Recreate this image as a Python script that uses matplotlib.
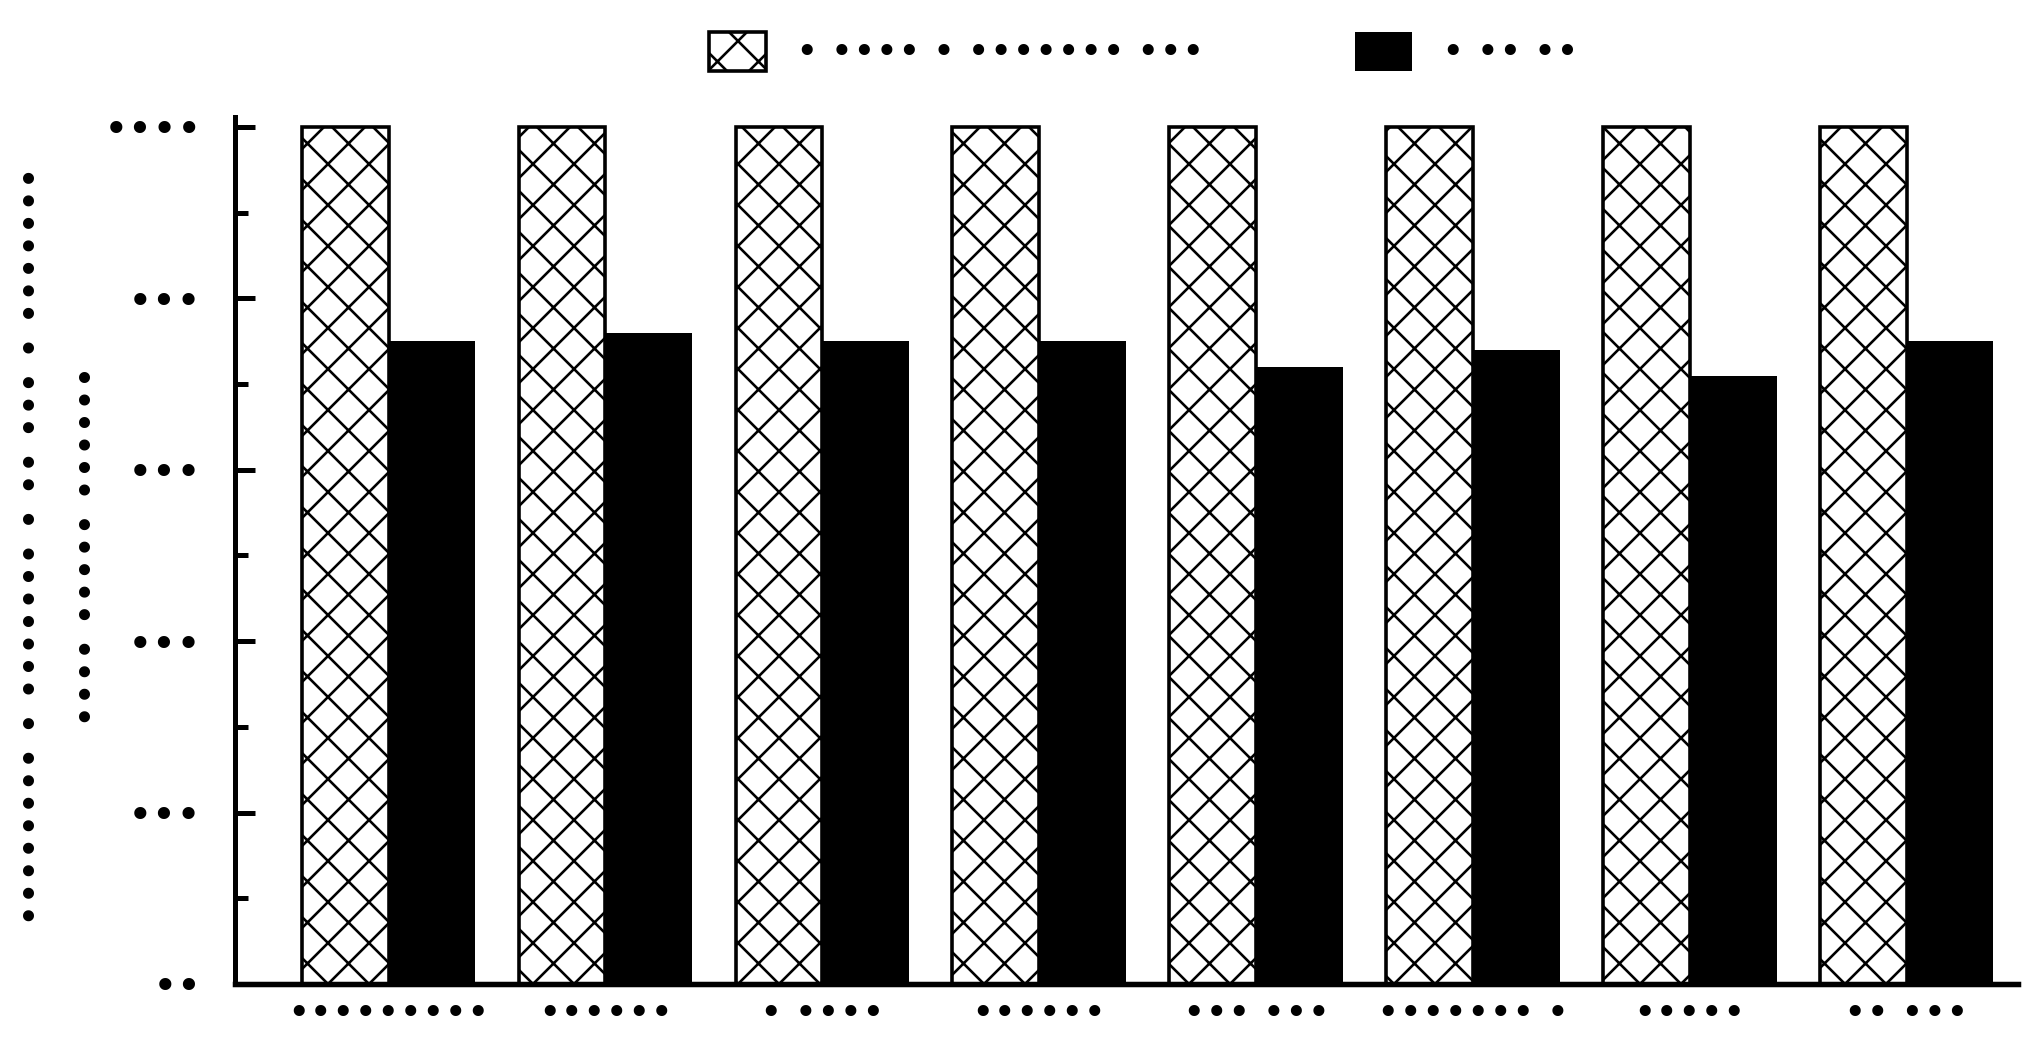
import numpy as np
import matplotlib
matplotlib.use('Agg')
import matplotlib.pyplot as plt

DPI = 246            # hatch 'xx' then repeats every DPI/6 px like the reference
PT = 72 / DPI        # one output pixel in points

groups = np.arange(8)
total = [100, 100, 100, 100, 100, 100, 100, 100]
dark = [75, 76, 75, 75, 72, 74, 71, 75]

xlabels = ['•••••••••', '••••••', '• ••••', '••••••',
           '••• •••', '••••••• •', '•••••', '•• •••']
yticks = [0, 20, 40, 60, 80, 100]
ylabels = ['••', '•••', '•••', '•••', '•••', '••••']
legend_labels = ['• •••• • ••••••• •••', '• •• ••']
ytitle = ['•••••••• • ••••••• • •• ••• • •••••••', '•••• ••••• ••••••']

FS = 38 * PT
plt.rcParams['font.family'] = 'DejaVu Sans'
plt.rcParams['hatch.linewidth'] = 2.6 * PT

fig = plt.figure(figsize=(2044 / DPI, 1049 / DPI), dpi=DPI)
ax = fig.add_axes([235 / 2044, 1 - 984 / 1049, (2018 - 235) / 2044, (984 - 116.7) / 1049])

w = 0.4
ax.bar(groups - w / 2, total, w, color='white', edgecolor='black',
       hatch='xx', linewidth=3.6 * PT, label=legend_labels[0])
ax.bar(groups + w / 2, dark, w, color='black', edgecolor='black',
       linewidth=0, label=legend_labels[1])

ax.set_xlim(-0.708, 7.513)
ax.set_ylim(0, 101.2)

for s in ['top', 'right']:
    ax.spines[s].set_visible(False)
ax.spines['left'].set_linewidth(5 * PT)
ax.spines['bottom'].set_linewidth(5.5 * PT)

ax.set_yticks(yticks)
ax.set_yticklabels(ylabels, fontsize=42 * PT)
ax.set_yticks([10, 30, 50, 70, 90], minor=True)
ax.tick_params(axis='y', which='major', direction='in', length=20 * PT,
               width=5 * PT, pad=33 * PT)
ax.tick_params(axis='y', which='minor', direction='in', length=13 * PT,
               width=5 * PT)

ax.set_xticks(groups)
ax.set_xticklabels(xlabels, fontsize=FS)
ax.tick_params(axis='x', length=0, pad=13 * PT)

fig.text(62 / 2044, 1 - 546 / 1049, '\n'.join(ytitle),
         rotation=90, ha='center', va='center', multialignment='center',
         fontsize=FS, linespacing=1.74)

hh = (39 / 38 - 0.245) / 0.65
ax.legend(loc='center', bbox_to_anchor=(1144 / 2044, 1 - 52 / 1049),
          bbox_transform=fig.transFigure, ncol=2, frameon=False,
          fontsize=FS, handlelength=57 / 38, handleheight=hh,
          handletextpad=30 / 38, columnspacing=150 / 38)

fig.savefig('out.png', dpi=DPI)
